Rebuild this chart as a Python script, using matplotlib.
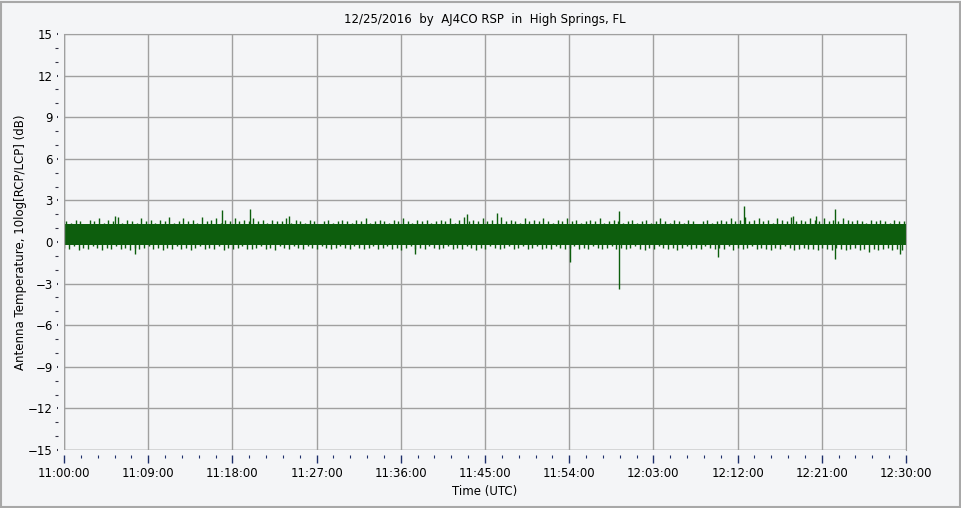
import matplotlib
matplotlib.use('Agg')
import matplotlib.pyplot as plt
import numpy as np
from matplotlib.patches import Rectangle

plt.rcParams['font.family'] = ['DejaVu Sans']

# minutes after 11:00 UTC
title = '12/25/2016  by  AJ4CO RSP  in  High Springs, FL'
tick_labels = ['11:00:00', '11:09:00', '11:18:00', '11:27:00', '11:36:00', '11:45:00',
               '11:54:00', '12:03:00', '12:12:00', '12:21:00', '12:30:00']

# solid core of the noise band (dB)
core_lo = -0.2
core_hi = 1.3

# upper edge of the band, one value per half minute
up_vals = [
    1.5, 1.4, 1.6, 1.5, 1.3, 1.6, 1.5, 1.7, 1.4, 1.6, 1.5, 1.8, 1.4, 1.6, 1.5, 1.4, 1.7, 1.5, 1.6, 1.4,
    1.6, 1.5, 1.8, 1.4, 1.5, 1.7, 1.5, 1.6, 1.4, 1.8, 1.5, 1.6, 1.7, 1.4, 1.6, 1.5, 1.7, 1.5, 1.6, 1.5,
    1.7, 1.5, 1.6, 1.4, 1.6, 1.5, 1.5, 1.7, 1.4, 1.6, 1.5, 1.4, 1.6, 1.5, 1.3, 1.5, 1.6, 1.4, 1.5, 1.6,
    1.5, 1.4, 1.6, 1.5, 1.7, 1.4, 1.5, 1.6, 1.5, 1.4, 1.6, 1.5, 1.7, 1.5, 1.4, 1.6, 1.5, 1.6, 1.4, 1.5,
    1.6, 1.5, 1.7, 1.4, 1.6, 1.8, 1.5, 1.6, 1.5, 1.7, 1.5, 1.6, 1.4, 1.8, 1.5, 1.6, 1.5, 1.4, 1.7, 1.5,
    1.6, 1.5, 1.7, 1.5, 1.4, 1.6, 1.5, 1.7, 1.5, 1.6, 1.4, 1.5, 1.6, 1.5, 1.7, 1.4, 1.5, 1.6, 1.5, 1.4,
    1.5, 1.6, 1.4, 1.5, 1.6, 1.4, 1.5, 1.7, 1.5, 1.4, 1.6, 1.5, 1.4, 1.6, 1.5, 1.3, 1.5, 1.6, 1.4, 1.5,
    1.6, 1.5, 1.7, 1.5, 1.6, 1.8, 1.5, 1.6, 1.7, 1.5, 1.6, 1.4, 1.7, 1.6, 1.5, 1.8, 1.5, 1.6, 1.5, 1.7,
    1.6, 1.5, 1.7, 1.5, 1.6, 1.5, 1.7, 1.6, 1.5, 1.6, 1.5, 1.4, 1.6, 1.5, 1.6, 1.5, 1.4, 1.6, 1.5, 1.5,
]
# lower edge of the band, one value per half minute
down_vals = [
    -0.4, -0.5, -0.3, -0.6, -0.4, -0.5, -0.3, -0.4, -0.6, -0.4, -0.5, -0.3, -0.5, -0.4, -0.6, -0.4, -0.5, -0.4, -0.3, -0.5,
    -0.4, -0.6, -0.4, -0.5, -0.3, -0.5, -0.4, -0.6, -0.4, -0.3, -0.5, -0.4, -0.5, -0.3, -0.6, -0.4, -0.5, -0.4, -0.3, -0.5,
    -0.5, -0.4, -0.3, -0.5, -0.4, -0.6, -0.3, -0.4, -0.5, -0.3, -0.4, -0.5, -0.3, -0.4, -0.5, -0.3, -0.4, -0.5, -0.4, -0.3,
    -0.4, -0.5, -0.3, -0.4, -0.5, -0.4, -0.3, -0.5, -0.4, -0.3, -0.5, -0.4, -0.6, -0.4, -0.3, -0.5, -0.4, -0.5, -0.3, -0.4,
    -0.5, -0.4, -0.3, -0.5, -0.4, -0.5, -0.3, -0.4, -0.6, -0.4, -0.5, -0.3, -0.4, -0.5, -0.4, -0.3, -0.5, -0.4, -0.3, -0.5,
    -0.4, -0.3, -0.5, -0.4, -0.5, -0.3, -0.4, -0.5, -0.4, -0.3, -0.5, -0.4, -0.5, -0.3, -0.4, -0.5, -0.4, -0.3, -0.5, -0.4,
    -0.5, -0.4, -0.3, -0.5, -0.6, -0.4, -0.5, -0.3, -0.4, -0.5, -0.4, -0.6, -0.4, -0.3, -0.5, -0.4, -0.5, -0.3, -0.4, -0.5,
    -0.4, -0.5, -0.3, -0.6, -0.4, -0.5, -0.4, -0.3, -0.5, -0.4, -0.5, -0.6, -0.4, -0.5, -0.3, -0.4, -0.6, -0.5, -0.4, -0.5,
    -0.5, -0.6, -0.4, -0.5, -0.6, -0.4, -0.5, -0.6, -0.5, -0.4, -0.6, -0.5, -0.7, -0.5, -0.6, -0.5, -0.4, -0.6, -0.5, -0.6,
]

# isolated spikes (minute, dB)
spike_up_t = [5.5, 16.9, 19.9, 24.0, 43.1, 46.3, 59.3, 72.7, 77.9, 80.4, 82.4]
spike_up_v = [1.9, 2.3, 2.4, 1.9, 2.0, 2.1, 2.2, 2.6, 1.9, 1.9, 2.4]
spike_dn_t = [7.6, 37.5, 54.1, 59.3, 69.9, 82.4, 89.4]
spike_dn_v = [-0.9, -0.9, -1.45, -3.4, -1.05, -1.2, -0.9]

green = '#0d5e0d'
bg = '#f4f5f7'

up_t = np.arange(len(up_vals)) * 0.5 + 0.25
dn_t = np.arange(len(down_vals)) * 0.5 + 0.05

fig = plt.figure(figsize=(9.62, 5.08), dpi=100, facecolor=bg)
ax = fig.add_axes([64 / 962, 58 / 508, 842 / 962, 416 / 508], facecolor=bg)

ax.fill_between([0, 90], core_lo, core_hi, color=green, lw=0)
ax.vlines(up_t, core_hi - 0.2, up_vals, color=green, lw=1.0)
ax.vlines(dn_t, down_vals, core_lo + 0.2, color=green, lw=1.0)
ax.vlines(spike_up_t, core_hi - 0.2, spike_up_v, color=green, lw=1.0)
ax.vlines(spike_dn_t, spike_dn_v, core_lo + 0.2, color=green, lw=1.0)

ax.set_xlim(0, 90)
ax.set_ylim(-15, 15)
ax.set_xticks(np.arange(0, 91, 9))
ax.set_xticklabels(tick_labels)
ax.set_xticks(np.arange(0, 90.01, 1.8), minor=True)
ax.set_yticks(np.arange(-15, 16, 3))
ax.set_yticks(np.arange(-15, 16, 1), minor=True)

ax.grid(True, which='major', color='#a0a0a0', lw=1)
ax.set_axisbelow(True)
for s in ['top', 'right']:
    ax.spines[s].set_color('#a0a0a0')
ax.spines['left'].set_position(('outward', 4))
ax.spines['bottom'].set_position(('outward', 3.5))
ax.spines['left'].set_visible(False)
ax.spines['bottom'].set_visible(False)
ax.axvline(0, color='#a0a0a0', lw=1)
ax.axhline(-15, color='#a0a0a0', lw=1)

ax.tick_params(axis='y', which='major', length=1, width=1.5, color='#333344', labelsize=8.5, pad=3)
ax.tick_params(axis='y', which='minor', length=2, width=0.8, color='#333344')
ax.tick_params(axis='x', which='major', length=6, width=1, color='#1e2f6a', labelsize=8.5, pad=3)
ax.tick_params(axis='x', which='minor', length=2.5, width=0.8, color='#1e2f6a')

ax.set_title(title, fontsize=8.5, pad=8)
ax.set_xlabel('Time (UTC)', fontsize=8.5, labelpad=3)
ax.set_ylabel('Antenna Temperature, 10log[RCP/LCP] (dB)', fontsize=8.5, labelpad=1)

fig.patches.append(Rectangle((0.001, 0.002), 0.997, 0.995, transform=fig.transFigure,
                             fill=False, edgecolor='#a8a8a8', lw=1.5))

fig.savefig('out.png', dpi=100, facecolor=bg)
